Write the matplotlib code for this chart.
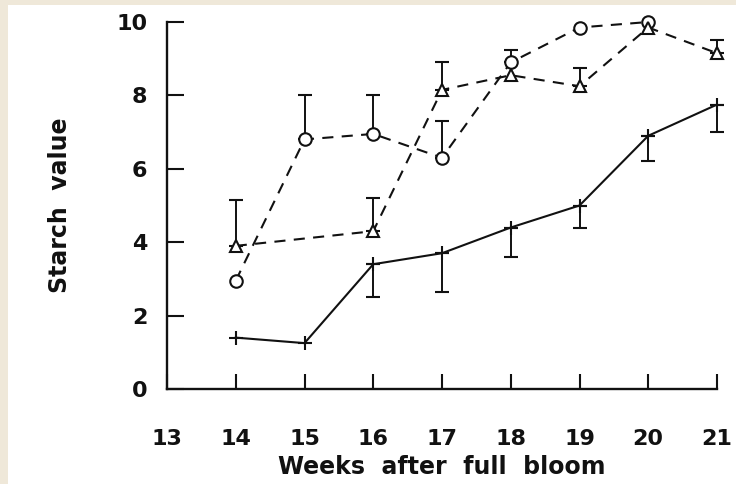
import matplotlib
matplotlib.use("Agg")
import matplotlib.pyplot as plt
from matplotlib.patches import Rectangle

# Starch value vs weeks after full bloom
weeks = [14, 15, 16, 17, 18, 19, 20, 21]
plus_vals = [1.4, 1.25, 3.4, 3.7, 4.4, 5.0, 6.9, 7.75]
plus_err_weeks = [16, 17, 18, 19, 20, 21]
plus_err_low = [0.9, 1.05, 0.8, 0.6, 0.7, 0.75]

circle_weeks = [14, 15, 16, 17, 18, 19, 20]
circle_vals = [2.95, 6.8, 6.95, 6.3, 8.9, 9.85, 10.0]
circle_err_weeks = [15, 16, 17, 18]
circle_err_high = [1.2, 1.05, 1.0, 0.35]

tri_weeks = [14, 16, 17, 18, 19, 20, 21]
tri_vals = [3.9, 4.3, 8.15, 8.55, 8.25, 9.85, 9.15]
tri_err_weeks = [14, 16, 17, 19, 21]
tri_err_high = [1.25, 0.9, 0.75, 0.5, 0.35]

x_ticks = [13, 14, 15, 16, 17, 18, 19, 20, 21]
y_ticks = [0, 2, 4, 6, 8, 10]

ink = "#111111"
plt.rcParams['font.family'] = ['DejaVu Sans']
plt.rcParams['lines.scale_dashes'] = False

fig = plt.figure(figsize=(7.36, 4.84), dpi=100)
fig.patch.set_facecolor("#efe8d9")
fig.patches.append(Rectangle((8 / 736, 0), 1, 1 - 5 / 484, transform=fig.transFigure,
                             facecolor="white", edgecolor="none", zorder=-10))

ax = fig.add_axes([167 / 736, 1 - 389 / 484, (717 - 167) / 736, (389 - 22) / 484])
ax.set_facecolor("none")
ax.set_xlim(13, 21)
ax.set_ylim(0, 10)

# solid line with + markers, error bars downward
ax.plot(weeks, plus_vals, color=ink, lw=1.5, marker="+", ms=10, mew=1.5,
        clip_on=False, zorder=3)
ax.errorbar(plus_err_weeks, [plus_vals[weeks.index(w)] for w in plus_err_weeks],
            yerr=[plus_err_low, [0] * len(plus_err_low)], fmt="none",
            ecolor=ink, elinewidth=1.4, capsize=5, capthick=1.5, clip_on=False)

# dashed line with open circles, error bars upward
ax.plot(circle_weeks, circle_vals, color=ink, lw=1.5, dashes=(8, 6), marker="o",
        ms=9, mfc="white", mec=ink, mew=1.5, clip_on=False, zorder=4)
ax.errorbar(circle_err_weeks, [circle_vals[circle_weeks.index(w)] for w in circle_err_weeks],
            yerr=[[0] * len(circle_err_high), circle_err_high], fmt="none",
            ecolor=ink, elinewidth=1.4, capsize=5, capthick=1.5, clip_on=False)

# dashed line with open triangles, error bars upward
ax.plot(tri_weeks, tri_vals, color=ink, lw=1.5, dashes=(8, 6), marker="^",
        ms=9, mfc="white", mec=ink, mew=1.5, clip_on=False, zorder=4)
ax.errorbar(tri_err_weeks, [tri_vals[tri_weeks.index(w)] for w in tri_err_weeks],
            yerr=[[0] * len(tri_err_high), tri_err_high], fmt="none",
            ecolor=ink, elinewidth=1.4, capsize=5, capthick=1.5, clip_on=False)

for side in ["top", "right"]:
    ax.spines[side].set_visible(False)
for side in ["left", "bottom"]:
    ax.spines[side].set_linewidth(1.7)
    ax.spines[side].set_color(ink)

ax.set_xticks(x_ticks)
ax.set_yticks(y_ticks)
ax.set_xticklabels([str(t) for t in x_ticks], fontsize=16, fontweight="bold")
ax.set_yticklabels([str(t) for t in y_ticks], fontsize=16, fontweight="bold")
ax.tick_params(axis="x", direction="in", length=11, width=1.5, pad=29, colors=ink)
ax.tick_params(axis="y", direction="in", length=12, width=1.5, pad=14, colors=ink)

fig.text(442 / 736, 1 - 467 / 484, "Weeks  after  full  bloom", ha="center", va="center",
         fontsize=17, fontweight="bold", color=ink)
fig.text(60 / 736, 1 - 205 / 484, "Starch  value", ha="center", va="center",
         rotation=90, fontsize=17, fontweight="bold", color=ink)

fig.savefig("out.png", dpi=100, facecolor=fig.get_facecolor())
